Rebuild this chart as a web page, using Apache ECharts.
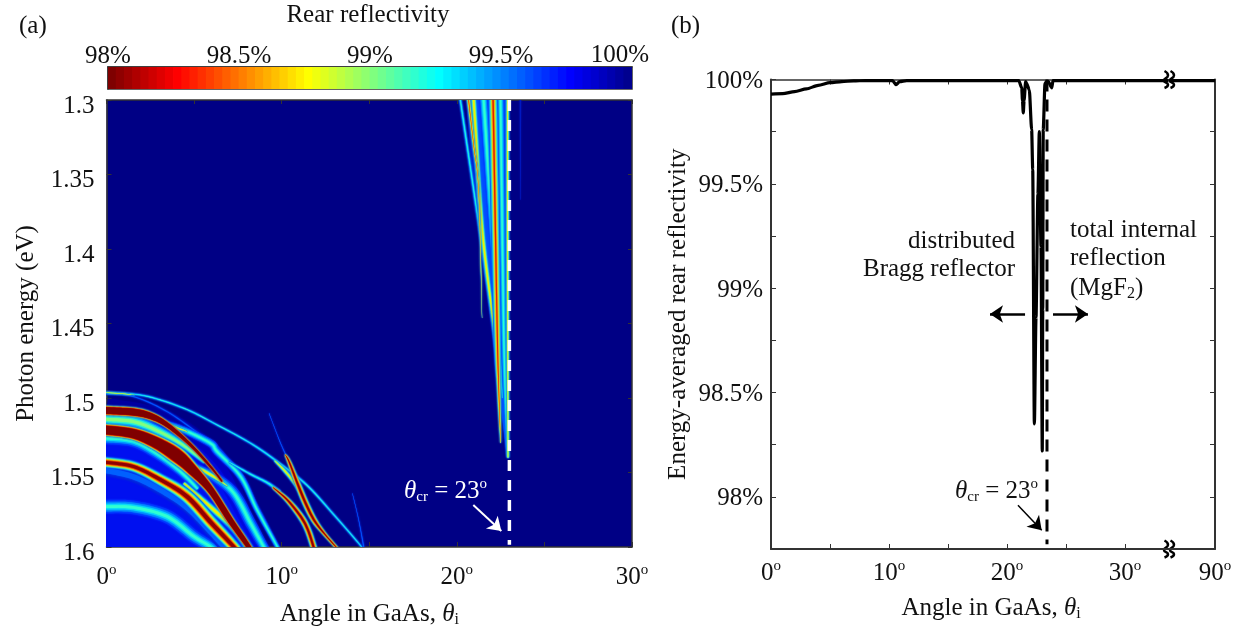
<!DOCTYPE html>
<html>
<head>
<meta charset="utf-8">
<style>
  html, body { margin: 0; padding: 0; background: #fff; }
  #chart { width: 1245px; height: 629px; }
</style>
<script src="https://cdn.jsdelivr.net/npm/echarts@6/dist/echarts.min.js"></script>
</head>
<body>
<div id="chart"></div>
<script>
// (a) ridges of the reflectivity map, each point is [angle deg, energy eV, half width eV]
const arcOuter = [[-0.5,1.4960,.0006],[0,1.4964,.0006],[2.13,1.4984,.0006],[4.42,1.5069,.0006],[6.32,1.5181,.0006],[8.23,1.5304,.0006],[9.75,1.5427,.0007],[11.43,1.5584,.0007],[12.99,1.5785,.0006],[14.5,1.5990,.0005],[14.9,1.606,.0005]];
const arcStart = [[-0.5,1.4962,.0004],[0,1.4964,.0005],[1,1.4972,.0005],[1.6,1.4980,.0002]];
const arcSecond = [[-0.5,1.4968,.0005],[0,1.4973,.0005],[1.56,1.4991,.0005],[3.47,1.5092,.0005],[5.37,1.5248,.0005],[6.5,1.5349,.0006],[7.66,1.5550,.0007],[8.8,1.5774,.0008],[9.75,1.6004,.0009],[10,1.606,.0009]];
const arcCyanUpper = [[2.9,1.5152,.0016],[4.42,1.5215,.0024],[5.94,1.5304,.0026],[6.32,1.5360,.0026],[7.66,1.5528,.0022],[8.6,1.5751,.0018],[9.75,1.5998,.0014],[10,1.606,.0014]];
const arcOrange = [[2.7,1.5140,.0004],[3.2,1.5160,.0012],[3.9,1.5195,.0012],[4.6,1.5225,.0004]];
const arcCyanMiddle = [[4.8,1.5449,.0018],[6.13,1.5528,.0032],[7.28,1.5640,.0036],[8.23,1.5841,.0036],[9.0,1.6004,.0030],[9.3,1.606,.0030]];
const arcTail = [[4.8,1.5449,.0010],[5.4,1.5480,.0018],[6.13,1.5528,.0016],[6.9,1.5590,.0005]];
const arcTopRed = [[-0.5,1.5080,.0032],[0,1.5084,.0032],[1.56,1.5095,.0032],[2.51,1.5121,.0028],[3.47,1.5181,.0020],[4.8,1.5315,.0012],[5.94,1.5461,.0008],[6.6,1.5560,.0005]];
const arcTopHalo = [[-0.5,1.5143,.0040],[0,1.5143,.0040],[1.6,1.5160,.0040],[3.0,1.5225,.0034],[4.42,1.5320,.0024],[5.6,1.5430,.0012]];
const arcThick = [[-0.5,1.5212,.0042],[0,1.5215,.0042],[1.56,1.5240,.0044],[2.9,1.5304,.0052],[4.0,1.5385,.0060],[4.8,1.5470,.0048],[5.94,1.5617,.0030],[7.09,1.5825,.0026],[8.04,1.5986,.0020],[8.4,1.606,.0020]];
const arcThickHalo = [[-0.5,1.5270,.0040],[0,1.5270,.0040],[1.56,1.5290,.0040],[2.9,1.5375,.0036],[4.2,1.5490,.0030],[5.2,1.5610,.0020]];
const arcLowerRed = [[-0.5,1.5425,.0036],[0,1.5432,.0036],[1.56,1.5461,.0036],[3.1,1.5550,.0040],[4.6,1.5662,.0046],[6.0,1.5841,.0046],[7.3,1.6004,.0040],[7.6,1.606,.0040]];
const arcLowerHalo = [[-0.5,1.5488,.0036],[0,1.5488,.0036],[1.56,1.5530,.0036],[3.1,1.5620,.0034],[4.6,1.5740,.0030],[6,1.5910,.0030],[7,1.6040,.0030]];
const arcYellow = [[4.42,1.5573,.0014],[5.9,1.5729,.0024],[7.2,1.5863,.0030],[8.0,1.5985,.0032],[8.3,1.606,.0032]];
const arcBottomCyan = [[-0.5,1.5729,.0046],[0,1.5729,.0046],[1.56,1.5735,.0046],[3.47,1.5796,.0046],[5,1.5930,.0042],[6.0,1.6004,.0040],[6.4,1.606,.0040]];
const blueWash = [[-0.5,1.5600,.0600],[2,1.5640,.0580],[4,1.5750,.0500],[6,1.5950,.0350],[8,1.6150,.0180]];
const crossSpeck = [[9.28,1.5103,.0002],[9.94,1.5304,.0003],[10.42,1.5427,.0005]];
const crossDown = [[10.2,1.5380,.0003],[10.42,1.5427,.0012],[10.9,1.5573,.0020],[11.37,1.5707,.0022],[11.85,1.5819,.0020],[12.42,1.5908,.0012],[13.18,1.6010,.0008]];
const crossUpper = [[9.6,1.5420,.0006],[10.13,1.5483,.0012],[10.6,1.5550,.0012],[11.1,1.5640,.0007]];
const crossTail = [[7.0,1.5430,.0005],[8.2,1.5510,.0008],[9.2,1.5570,.0010],[9.9,1.5630,.0012]];
const crossLower = [[9.5,1.5600,.0006],[10.32,1.5684,.0016],[11.09,1.5796,.0022],[11.5,1.5886,.0022],[11.85,1.6010,.0022]];
const edgeSpeck = [[14.04,1.5640,.0002],[14.4,1.5820,.0003],[14.7,1.6010,.0005]];
// funnel below the critical angle
const funnelWash = [[21.75,1.2950,.0145],[21.85,1.3300,.0130],[22.1,1.3900,.0095],[22.4,1.4500,.0052],[22.7,1.5100,.0018],[22.9,1.5400,.0005]];
const funnelThin = [[20.15,1.295,.0008],[20.2,1.3,.0008],[22.1,1.451,.0008],[22.4,1.485,.0004]];
const funnelSpeck = [[20.62,1.295,.0012],[20.67,1.3,.0012],[20.96,1.3302,.0008],[21.25,1.3617,.0005],[21.44,1.4463,.0001]];
const funnelYellow = [[20.93,1.295,.0020],[20.96,1.3,.0020],[21.44,1.386,.0018],[22.1,1.451,.0012],[22.4,1.49,.0005]];
const funnelBlue = [[21.5,1.295,.0030],[21.53,1.3,.0030],[22.37,1.451,.0018],[22.6,1.50,.0006]];
const funnelRed = [[22.05,1.295,.0032],[22.07,1.3,.0032],[22.3,1.451,.0026],[22.39,1.4926,.0014],[22.5,1.53,.0003]];
const funnelCyan = [[22.48,1.295,.0026],[22.49,1.3,.0026],[22.67,1.451,.0020],[22.87,1.5262,.0010],[22.95,1.54,.0003]];
const funnelEdge = [[22.9,1.295,.0010],[22.9,1.40,.0010],[22.92,1.54,.0008]];
const faintLine = [[23.63,1.295,.0005],[23.63,1.367,.0002]];

// drawing order and how hot the middle of each ridge gets
const ridgeList = [blueWash, funnelWash, arcSecond, arcOuter, arcStart, arcBottomCyan, arcLowerHalo, arcThickHalo, arcTopHalo, arcCyanUpper, arcCyanMiddle, faintLine,
  funnelThin, funnelBlue, funnelCyan, funnelYellow, funnelRed, funnelSpeck, funnelEdge,
  arcOrange, arcTail, arcTopRed, arcYellow, arcLowerRed, arcThick, crossTail, crossSpeck, crossUpper, crossLower, crossDown, edgeSpeck];
const ridgePeak = ['wash', 'funnel', 'blue', 'cyan', 'yellow', 'cyan', 'blue', 'cyan', 'halo', 'cyan', 'cyan', 'faint',
  'cyan', 'cyan', 'cyan', 'yellow', 'thinRed', 'thinRed', 'yellow',
  'yellow', 'yellow', 'sat', 'yellow', 'red', 'sat', 'cyan', 'blue', 'yellow', 'red', 'red', 'blue'];

const peakLayers = {
  faint: [[1, '#0018c0']],
  wash: [[1, '#0000a0'], [.92, '#0000c0'], [.82, '#0008dc'], [.68, '#0010f0']],
  funnel: [[1, '#0020d0'], [.85, '#0050ff']],
  blue: [[1, '#0020e0'], [.5, '#0060ff']],
  halo: [[1, '#0050ff'], [.75, '#00b0ff'], [.5, '#20f0e0'], [.25, '#80ff80']],
  cyan: [[1, '#0030ff'], [.7, '#0080ff'], [.42, '#00d0ff'], [.2, '#30ffd0']],
  yellow: [[1, '#0040ff'], [.75, '#00b0ff'], [.5, '#40ffc0'], [.28, '#f0f000']],
  thinRed: [[1, '#0040ff'], [.8, '#00a0ff'], [.6, '#20f0e0'], [.42, '#c0ff40'], [.28, '#ffd000'], [.14, '#e02000']],
  red: [[1, '#0040ff'], [.88, '#00a0ff'], [.76, '#20f0e0'], [.64, '#a0ff60'], [.52, '#ffe000'], [.40, '#ff5000'], [.26, '#900000']],
  sat: [[1, '#0050ff'], [.93, '#00b0ff'], [.87, '#40ffc0'], [.82, '#ffff00'], [.76, '#ff6000'], [.70, '#c00000'], [.64, '#800000']]
};

// colour bar, low to high
const barColors = ['#7f0000','#8f0000','#9f0000','#af0000','#bf0000','#cf0000','#df0000','#ef0000',
  '#ff0000','#ff0f00','#ff1f00','#ff2f00','#ff3f00','#ff4f00','#ff5f00','#ff6f00','#ff7f00','#ff8f00','#ff9f00','#ffaf00','#ffbf00','#ffcf00','#ffdf00','#ffef00',
  '#ffff00','#efff0f','#dfff1f','#cfff2f','#bfff3f','#afff4f','#9fff5f','#8fff6f','#7fff7f','#6fff8f','#5fff9f','#4fffaf','#3fffbf','#2fffcf','#1fffdf','#0fffef',
  '#00ffff','#00efff','#00dfff','#00cfff','#00bfff','#00afff','#009fff','#008fff','#007fff','#006fff','#005fff','#004fff','#003fff','#002fff','#001fff','#000fff',
  '#0000ff','#0000ef','#0000df','#0000cf','#0000bf','#0000af','#00009f','#00008f'];
const barTicks = [98, 98.5, 99, 99.5];

const energyTicks = [1.3, 1.35, 1.4, 1.45, 1.5, 1.55, 1.6];
const angleTicks = [0, 5, 10, 15, 20, 25, 30];
const angleLabels = [0, 10, 20, 30];
const reflectTicks = [98, 98.25, 98.5, 98.75, 99, 99.25, 99.5, 99.75, 100];
const reflectLabels = [98, 98.5, 99, 99.5, 100];

// (b) energy averaged curve
const avgAngles = [0, 1, 2, 3, 4, 5, 6, 7, 8, 10, 10.3, 10.6, 10.9, 11.5, 15, 21.0, 21.25, 21.31, 21.38, 21.45, 21.58, 21.67, 21.89, 22.09, 22.18, 22.32, 22.46, 22.62, 22.74, 22.88, 22.99, 23.03, 23.07, 23.22, 23.35, 23.5, 23.79, 23.9, 25, 30, 33.7];
const avgReflect = [99.93, 99.932, 99.942, 99.955, 99.972, 99.985, 99.99, 99.993, 99.995, 99.995, 99.995, 99.975, 99.99, 99.995, 99.995, 99.995, 99.96, 99.9, 99.84, 99.9, 99.99, 99.98, 99.95, 99.76, 99.57, 98.35, 98.86, 99.45, 99.75, 99.2, 98.22, 98.9, 99.76, 99.98, 99.99, 99.99, 99.96, 99.995, 99.995, 99.995, 99.995];
const farAngles = [86, 90];
const farReflect = [99.995, 99.995];
const critMap = [[23, 1.3], [23, 1.5985]];
const critAvg = [[23.39, 100], [23.39, 97.773]];

const SERIF = 'Liberation Serif';
const AXIS = '#333333';

function deg(v) { return '{a|' + v + '}{o|o}'; }
const degRich = {
  a: { fontFamily: SERIF, fontSize: 25, color: '#111', lineHeight: 28 },
  o: { fontFamily: SERIF, fontSize: 15, color: '#111', lineHeight: 28, verticalAlign: 'top' }
};
const angleName = '{n|Angle in GaAs, }{t|θ}{s|i}';
const nameRich = {
  n: { fontFamily: SERIF, fontSize: 25, color: '#111', lineHeight: 28, fill: '#111' },
  t: { fontFamily: SERIF, fontSize: 25, fontStyle: 'italic', color: '#111', lineHeight: 28, fill: '#111' },
  s: { fontFamily: SERIF, fontSize: 16, color: '#111', lineHeight: 28, verticalAlign: 'bottom', fill: '#111' }
};
const subRich = {
  n: { fontFamily: SERIF, fontSize: 25, lineHeight: 28, fill: '#111' },
  s: { fontFamily: SERIF, fontSize: 16, lineHeight: 28, verticalAlign: 'bottom', fill: '#111' }
};

// smooths the read-off points on screen so the ribbons do not kink
function spline(c) {
  const out = [];
  for (let i = 0; i < c.length - 1; i++) {
    const p0 = c[Math.max(i - 1, 0)], p1 = c[i], p2 = c[i + 1], p3 = c[Math.min(i + 2, c.length - 1)];
    for (let k = 0; k < 10; k++) {
      const t = k / 10;
      out.push(p1.map(function (_, d) {
        return 0.5 * (2 * p1[d] + (p2[d] - p0[d]) * t + (2 * p0[d] - 5 * p1[d] + 4 * p2[d] - p3[d]) * t * t + (3 * p1[d] - p0[d] - 3 * p2[d] + p3[d]) * t * t * t);
      }));
    }
  }
  out.push(c[c.length - 1]);
  return out;
}

function ribbon(pts, layers) {
  return function (params, api) {
    if (params.dataIndex !== 0) return;
    const perEv = Math.abs(api.coord([0, 1.4])[1] - api.coord([0, 1.3])[1]) / 0.1;
    const c = spline(pts.map(function (p) {
      const q = api.coord([p[0], p[1]]);
      return [q[0], q[1], p[2] * perEv];
    }));
    const children = layers.map(function (layer) {
      const left = [], right = [];
      c.forEach(function (q, i) {
        const a = c[Math.max(i - 1, 0)], b = c[Math.min(i + 1, c.length - 1)];
        const dx = b[0] - a[0], dy = b[1] - a[1], len = Math.hypot(dx, dy) || 1;
        const h = q[2] * layer[0];
        left.push([q[0] - dy / len * h, q[1] + dx / len * h]);
        right.unshift([q[0] + dy / len * h, q[1] - dx / len * h]);
      });
      return { type: 'polygon', shape: { points: left.concat(right) }, style: { fill: layer[1], shadowBlur: 2, shadowColor: layer[1] } };
    });
    return { type: 'group', children: children };
  };
}

function tickAxis(extra) {
  return Object.assign({
    type: 'value',
    axisLine: { show: true, onZero: false, lineStyle: { color: AXIS, width: 1.5 } },
    axisTick: { show: true, inside: true, length: 5, lineStyle: { color: AXIS, width: 1 } },
    axisLabel: { show: false },
    splitLine: { show: false }
  }, extra);
}

function arrowMark(from, to, color, width) {
  return {
    silent: true, symbol: ['none', 'arrow'], symbolSize: 13, animation: false,
    label: { show: false }, lineStyle: { color: color, width: width, type: 'solid' },
    data: [[{ coord: from }, { coord: to }]]
  };
}

function plain(text, x, y, align) {
  return {
    type: 'text', x: x, y: y, z: 20,
    style: { text: text, fontFamily: SERIF, fontSize: 25, fill: '#111', align: align, verticalAlign: 'middle' }
  };
}

function crit(x, y, color) {
  return {
    type: 'text', x: x, y: y, z: 20,
    style: {
      text: '{t|θ}{s|cr}{n| = 23}{o|o}', fill: color,
      rich: {
        t: { fontFamily: SERIF, fontStyle: 'italic', fontSize: 25, lineHeight: 28, fill: color },
        s: { fontFamily: SERIF, fontSize: 15, lineHeight: 28, verticalAlign: 'bottom', fill: color },
        n: { fontFamily: SERIF, fontSize: 25, lineHeight: 28, fill: color },
        o: { fontFamily: SERIF, fontSize: 15, lineHeight: 28, verticalAlign: 'top', fill: color }
      }
    }
  };
}

// break mark on the angle axis, white gap with two wavy strokes
function squiggle(x, y) {
  const wave = [[-1.5, -8.5], [2, -4], [-2, 1], [2, 5], [-1.5, 8.5]];
  return {
    type: 'group', x: x, y: y, z: 30,
    children: [
      { type: 'rect', shape: { x: -8, y: -2, width: 15, height: 4 }, style: { fill: '#fff' } },
      { type: 'polyline', x: -3, shape: { points: wave, smooth: 0.6 }, style: { fill: 'none', stroke: '#000', lineWidth: 2.5 } },
      { type: 'polyline', x: 3, shape: { points: wave, smooth: 0.6 }, style: { fill: 'none', stroke: '#000', lineWidth: 2.5 } }
    ]
  };
}

const chart = echarts.init(document.getElementById('chart'), null, { renderer: 'canvas' });

const ridgeSeries = ridgeList.map(function (pts, i) {
  return {
    type: 'custom', xAxisIndex: 0, yAxisIndex: 0, clip: true, silent: true, animation: false,
    data: pts, encode: { x: 0, y: 1 },
    renderItem: ribbon(pts, peakLayers[ridgePeak[i]])
  };
});

const heavyLine = { show: true, onZero: false, lineStyle: { color: AXIS, width: 2 } };

chart.setOption({
  animation: false,
  backgroundColor: '#ffffff',
  textStyle: { fontFamily: SERIF },
  grid: [
    { left: 106.5, top: 100, width: 525.5, height: 447, outerBoundsMode: 'none', show: true, backgroundColor: '#000085', borderWidth: 0 },
    { left: 108, top: 67, width: 524, height: 22, outerBoundsMode: 'none', show: true, borderColor: AXIS, borderWidth: 1.5 },
    { left: 771, top: 79.5, width: 398, height: 469.5, outerBoundsMode: 'none' },
    { left: 1169, top: 79.5, width: 46, height: 469.5, outerBoundsMode: 'none' }
  ],
  xAxis: [
    tickAxis({
      gridIndex: 0, min: 0, max: 30, position: 'bottom',
      name: angleName, nameLocation: 'middle', nameGap: 53,
      nameTextStyle: { rich: nameRich },
      axisTick: { show: true, inside: true, length: 5, customValues: angleTicks, lineStyle: { color: AXIS } },
      axisLabel: { show: true, margin: 16, customValues: angleLabels, formatter: deg, rich: degRich }
    }),
    tickAxis({
      gridIndex: 0, min: 0, max: 30, position: 'top',
      axisTick: { show: true, inside: true, length: 4, customValues: angleTicks, lineStyle: { color: AXIS } }
    }),
    { type: 'category', gridIndex: 1, show: false, data: barColors, boundaryGap: true },
    tickAxis({
      gridIndex: 1, min: 98, max: 100, position: 'top',
      axisTick: { show: true, inside: true, length: 5, customValues: barTicks, lineStyle: { color: AXIS } },
      axisLabel: {
        show: true, margin: -2, customValues: barTicks, color: '#111', fontFamily: SERIF, fontSize: 25,
        formatter: function (v) { return v + '%'; }
      }
    }),
    tickAxis({
      gridIndex: 2, min: 0, max: 33.73, position: 'bottom', axisLine: heavyLine,
      axisTick: { show: true, inside: true, length: 5, customValues: angleTicks, lineStyle: { color: AXIS } },
      axisLabel: { show: true, margin: 10, customValues: angleLabels, formatter: deg, rich: degRich }
    }),
    tickAxis({
      gridIndex: 2, min: 0, max: 33.73, position: 'top',
      axisTick: { show: true, inside: true, length: 5, customValues: angleTicks, lineStyle: { color: AXIS } }
    }),
    tickAxis({
      gridIndex: 3, min: 86, max: 90, position: 'bottom', axisLine: heavyLine,
      axisTick: { show: false },
      axisLabel: { show: true, margin: 10, customValues: [90], formatter: deg, rich: degRich }
    }),
    tickAxis({ gridIndex: 3, min: 86, max: 90, position: 'top', axisTick: { show: false } })
  ],
  yAxis: [
    tickAxis({
      gridIndex: 0, min: 1.3, max: 1.6, inverse: true, position: 'left',
      name: 'Photon energy (eV)', nameLocation: 'middle', nameGap: 68,
      nameTextStyle: { fontFamily: SERIF, fontSize: 25, color: '#111' },
      axisTick: { show: true, inside: true, length: 5, customValues: energyTicks, lineStyle: { color: AXIS } },
      axisLabel: {
        show: true, margin: 12, customValues: energyTicks,
        formatter: function (v) { return '{v|' + (+v.toFixed(2)) + '}'; },
        rich: { v: { fontFamily: SERIF, fontSize: 25, color: '#111', lineHeight: 37, verticalAlign: 'bottom' } }
      }
    }),
    tickAxis({
      gridIndex: 0, min: 1.3, max: 1.6, inverse: true, position: 'right',
      axisTick: { show: true, inside: true, length: 4, customValues: energyTicks, lineStyle: { color: AXIS } }
    }),
    tickAxis({ gridIndex: 1, min: 0, max: 1, position: 'left', axisTick: { show: false } }),
    tickAxis({
      gridIndex: 2, min: 97.75, max: 100, position: 'left', axisLine: heavyLine,
      name: 'Energy-averaged rear reflectivity', nameLocation: 'middle', nameGap: 80,
      nameTextStyle: { fontFamily: SERIF, fontSize: 25, color: '#111' },
      axisTick: { show: true, inside: true, length: 5, customValues: reflectTicks, lineStyle: { color: AXIS } },
      axisLabel: {
        show: true, margin: 8, customValues: reflectLabels,
        formatter: function (v) { return '{v|' + v + '%}'; },
        rich: { v: { fontFamily: SERIF, fontSize: 25, color: '#111', lineHeight: 29, verticalAlign: 'bottom' } }
      }
    }),
    tickAxis({
      gridIndex: 3, min: 97.75, max: 100, position: 'right', axisLine: heavyLine,
      axisTick: { show: true, inside: true, length: 5, customValues: reflectTicks, lineStyle: { color: AXIS } }
    })
  ],
  series: ridgeSeries.concat([
    {
      type: 'line', xAxisIndex: 0, yAxisIndex: 0, data: critMap, symbol: 'none', z: 5, silent: true,
      lineStyle: { color: '#ffffff', width: 3.5, type: [11, 9] },
      markLine: arrowMark([20.94, 1.5718], [22.54, 1.5893], '#ffffff', 2)
    },
    {
      type: 'bar', xAxisIndex: 2, yAxisIndex: 2, barWidth: 9, barGap: '0%', silent: true,
      data: barColors.map(function (c) { return { value: 1, itemStyle: { color: c } }; })
    },
    {
      type: 'line', xAxisIndex: 4, yAxisIndex: 3, symbol: 'none', clip: false, z: 5, silent: true,
      data: avgAngles.map(function (a, i) { return [a, avgReflect[i]]; }),
      smooth: 0.25, smoothMonotone: 'x',
      lineStyle: { color: '#000', width: 3.2, join: 'round' }
    },
    {
      type: 'line', xAxisIndex: 6, yAxisIndex: 4, symbol: 'none', clip: false, z: 5, silent: true,
      data: farAngles.map(function (a, i) { return [a, farReflect[i]]; }),
      lineStyle: { color: '#000', width: 3.2 }
    },
    {
      type: 'line', xAxisIndex: 4, yAxisIndex: 3, symbol: 'none', z: 4, silent: true, data: critAvg,
      lineStyle: { color: '#000', width: 3, type: [12, 8] },
      markLine: arrowMark([20.93, 97.96], [22.94, 97.84], '#000', 1.5)
    },
    {
      type: 'line', xAxisIndex: 4, yAxisIndex: 3, symbol: 'none', data: [], silent: true,
      markLine: arrowMark([21.53, 98.876], [18.56, 98.876], '#000', 2.5)
    },
    {
      type: 'line', xAxisIndex: 4, yAxisIndex: 3, symbol: 'none', data: [], silent: true,
      markLine: arrowMark([23.9, 98.876], [26.86, 98.876], '#000', 2.5)
    }
  ]),
  graphic: [
    plain('(a)', 19, 26, 'left'),
    plain('(b)', 671, 26, 'left'),
    plain('Rear reflectivity', 368, 15, 'center'),
    plain('100%', 620, 55, 'center'),
    plain('distributed', 1015, 241, 'right'),
    plain('Bragg reflector', 1015, 269, 'right'),
    plain('total internal', 1070, 230, 'left'),
    plain('reflection', 1070, 258, 'left'),
    {
      type: 'text', x: 1070, y: 274, z: 20,
      style: { text: '{n|(MgF}{s|2}{n|)}', fill: '#111', rich: subRich }
    },
    {
      type: 'text', x: 991, y: 608, z: 20,
      style: { text: angleName, rich: nameRich, fill: '#111', align: 'center', verticalAlign: 'middle' }
    },
    crit(404, 477, '#ffffff'),
    crit(955, 477, '#111111'),
    squiggle(1169, 79.5),
    squiggle(1169, 549)
  ]
});

window.addEventListener('resize', function () { chart.resize(); });
</script>
</body>
</html>
